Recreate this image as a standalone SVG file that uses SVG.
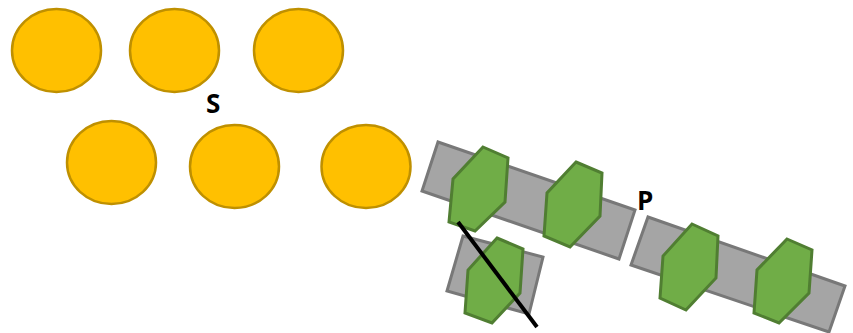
<svg xmlns="http://www.w3.org/2000/svg" width="853" height="333" viewBox="0 0 853 333">
<style>
.s{fill:#FFC000;stroke:#BF9000;stroke-width:2.5}
.r{fill:#A5A5A5;stroke:#787878;stroke-width:3;stroke-linejoin:miter}
.h{fill:#70AD47;stroke:#507E32;stroke-width:3;stroke-linejoin:miter}
.t{font-family:"Open Sans","Liberation Sans",sans-serif;font-weight:bold;font-size:26px;fill:#000}
</style>
<rect width="853" height="333" fill="#fff"/>
<g id="s1"><ellipse class="s" cx="56.5" cy="50.5" rx="44.5" ry="41.5"/></g>
<g id="s2"><ellipse class="s" cx="174.5" cy="50.5" rx="44.5" ry="41.5"/></g>
<g id="s3"><ellipse class="s" cx="298.5" cy="50.5" rx="44.5" ry="41.5"/></g>
<g id="s4"><ellipse class="s" cx="111.5" cy="162.5" rx="44.5" ry="41.5"/></g>
<g id="s5"><ellipse class="s" cx="234.5" cy="166.5" rx="44.5" ry="41.5"/></g>
<g id="s6"><ellipse class="s" cx="366" cy="166.5" rx="44.5" ry="41.5"/></g>
<g id="labelS"><text class="t" x="206" y="113">S</text></g>
<g id="p1">
<polygon class="r" points="438,142 635,210 619,259 422,191"/>
<polygon class="h" points="483,147 508,158 505,202 475,231 449,222 453,179"/>
<polygon class="h" points="576,162 602,173 600,216 570,247 544,236 547,193"/>
</g>
<g id="p2">
<polygon class="r" points="463,236 543,257 529,314 447,291"/>
<polygon class="h" points="497,238 523,249 520,293 492,323 465,313 468,270"/>
</g>
<g id="p3">
<polygon class="r" points="648,217 845,286 829,332 631,265"/>
<polygon class="h" points="692,224 718,236 716,278 686,310 660,298 663,256"/>
<polygon class="h" points="787,239 812,250 809,293 779,323 754,313 757,270"/>
</g>
<g id="labelP"><text class="t" x="637" y="210">P</text></g>
<g id="connectors"><line x1="458" y1="222" x2="537" y2="327" stroke="#000" stroke-width="4"/></g>
</svg>
